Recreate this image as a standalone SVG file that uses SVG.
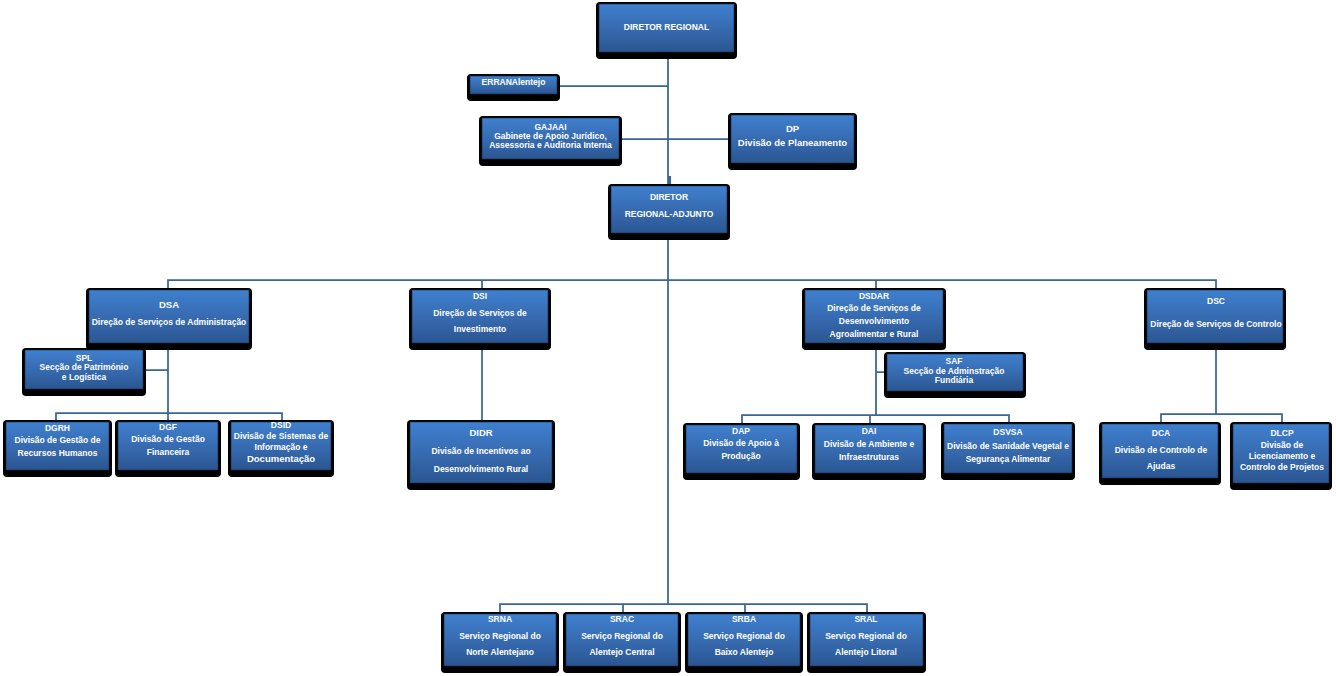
<svg xmlns="http://www.w3.org/2000/svg" width="1336" height="676" viewBox="0 0 1336 676">
<defs>
<linearGradient id="g" x1="0" y1="0" x2="0" y2="1">
<stop offset="0" stop-color="#3F80CF"/>
<stop offset="0.55" stop-color="#3669AE"/>
<stop offset="1" stop-color="#2A5692"/>
</linearGradient>
</defs>
<style>
.sh{fill:#000}
.bx{fill:url(#g);stroke:#1a2a40;stroke-width:0.6}
text{font-family:"Liberation Sans",Arial,sans-serif;font-weight:bold;font-size:8.5px;fill:#FFFFFF;text-anchor:middle}
.b{font-size:9.5px}
.m{font-size:9.5px}
#connectors path{fill:none;stroke:#3A6696;stroke-width:1.75}
</style>
<rect width="1336" height="676" fill="#FFFFFF"/>
<g id="connectors">
<path d="M668 52V186M668 233V604"/>
<path d="M669.5 176V187" style="stroke-width:3"/>
<path d="M557 86H668M619 139H731"/>
<path d="M168 290V280H1216V290M482 280V290M876 280V290"/>
<path d="M168 343V413M143 370H168M56 422V413H282V422M168 413V422"/>
<path d="M482 343V422"/>
<path d="M876 343V415M876 372H887M742 425V415H1009V424M870 415V425"/>
<path d="M1216 343V414M1161 424V414H1282V424"/>
<path d="M500 614V604H867V614M623 604V614M745 604V614"/>
</g>
<g id="dr"><rect class="sh" x="596" y="2" width="141" height="57" rx="4"/><rect class="bx" x="599" y="4" width="135" height="48"/><text x="666.5" y="30">DIRETOR REGIONAL</text></g>
<g id="erran"><rect class="sh" x="467" y="74" width="93" height="27" rx="4"/><rect class="bx" x="470" y="76" width="87" height="18"/><text x="513.5" y="85">ERRANAlentejo</text></g>
<g id="gajaai"><rect class="sh" x="479" y="116" width="143" height="50" rx="4"/><rect class="bx" x="482" y="118" width="137" height="41"/><text x="550.5" y="130">GAJAAI</text><text x="550.5" y="139">Gabinete de Apoio Jurídico,</text><text x="550.5" y="148">Assessoria e Auditoria Interna</text></g>
<g id="dp"><rect class="sh" x="728" y="113" width="129" height="57" rx="4"/><rect class="bx" x="731" y="115" width="123" height="48"/><text class="b" x="792.5" y="131.5">DP</text><text class="b" x="792.5" y="145.5">Divisão de Planeamento</text></g>
<g id="dra"><rect class="sh" x="608" y="184" width="122" height="56" rx="4"/><rect class="bx" x="611" y="186" width="116" height="47"/><text x="669" y="200">DIRETOR</text><text x="669" y="217">REGIONAL-ADJUNTO</text></g>
<g id="dsa"><rect class="sh" x="86" y="288" width="166" height="62" rx="4"/><rect class="bx" x="89" y="290" width="160" height="53"/><text class="m" x="169" y="308">DSA</text><text x="169" y="325">Direção de Serviços de Administração</text></g>
<g id="spl"><rect class="sh" x="22" y="348" width="124" height="48" rx="4"/><rect class="bx" x="25" y="350" width="118" height="39"/><text x="84" y="361">SPL</text><text x="84" y="370">Secção de Património</text><text x="84" y="380">e Logística</text></g>
<g id="dgrh"><rect class="sh" x="3" y="420" width="109" height="57" rx="4"/><rect class="bx" x="6" y="422" width="103" height="48"/><text x="57.5" y="431">DGRH</text><text x="57.5" y="443">Divisão de Gestão de</text><text x="57.5" y="456">Recursos Humanos</text></g>
<g id="dgf"><rect class="sh" x="115" y="420" width="106" height="57" rx="4"/><rect class="bx" x="118" y="422" width="100" height="48"/><text x="168" y="430">DGF</text><text x="168" y="442">Divisão de Gestão</text><text x="168" y="455">Financeira</text></g>
<g id="dsid"><rect class="sh" x="228" y="420" width="106" height="57" rx="4"/><rect class="bx" x="231" y="422" width="100" height="48"/><text x="281" y="428">DSID</text><text x="281" y="439">Divisão de Sistemas de</text><text x="281" y="450">Informação e</text><text class="m" x="281" y="461.5">Documentação</text></g>
<g id="dsi"><rect class="sh" x="409" y="288" width="142" height="62" rx="4"/><rect class="bx" x="412" y="290" width="136" height="53"/><text x="480" y="299">DSI</text><text x="480" y="316">Direção de Serviços de</text><text x="480" y="332">Investimento</text></g>
<g id="didr"><rect class="sh" x="407" y="420" width="148" height="70" rx="4"/><rect class="bx" x="410" y="422" width="142" height="61"/><text class="m" x="481" y="435.5">DIDR</text><text x="481" y="454">Divisão de Incentivos ao</text><text x="481" y="472">Desenvolvimento Rural</text></g>
<g id="dsdar"><rect class="sh" x="802" y="288" width="144" height="62" rx="4"/><rect class="bx" x="805" y="290" width="138" height="53"/><text x="874" y="299">DSDAR</text><text x="874" y="311">Direção de Serviços de</text><text x="874" y="324">Desenvolvimento</text><text x="874" y="337">Agroalimentar e Rural</text></g>
<g id="saf"><rect class="sh" x="884" y="352" width="142" height="46" rx="4"/><rect class="bx" x="887" y="354" width="136" height="37"/><text x="954" y="364">SAF</text><text x="954" y="374">Secção de Adminstração</text><text x="954" y="383">Fundiária</text></g>
<g id="dap"><rect class="sh" x="683" y="423" width="117" height="57" rx="4"/><rect class="bx" x="686" y="425" width="111" height="48"/><text x="741" y="434">DAP</text><text x="741" y="446">Divisão de Apoio à</text><text x="741" y="459">Produção</text></g>
<g id="dai"><rect class="sh" x="812" y="423" width="114" height="57" rx="4"/><rect class="bx" x="815" y="425" width="108" height="48"/><text x="869" y="434">DAI</text><text x="869" y="447">Divisão de Ambiente e</text><text x="869" y="460">Infraestruturas</text></g>
<g id="dsvsa"><rect class="sh" x="941" y="422" width="134" height="58" rx="4"/><rect class="bx" x="944" y="424" width="128" height="49"/><text x="1008" y="435">DSVSA</text><text x="1008" y="449">Divisão de Sanidade  Vegetal e</text><text x="1008" y="462">Segurança Alimentar</text></g>
<g id="dsc"><rect class="sh" x="1144" y="288" width="142" height="62" rx="4"/><rect class="bx" x="1147" y="290" width="136" height="53"/><text x="1216" y="304">DSC</text><text x="1216" y="327">Direção de Serviços de Controlo</text></g>
<g id="dca"><rect class="sh" x="1099" y="422" width="122" height="63" rx="4"/><rect class="bx" x="1102" y="424" width="116" height="54"/><text x="1161" y="436">DCA</text><text x="1161" y="453">Divisão de Controlo  de</text><text x="1161" y="469">Ajudas</text></g>
<g id="dlcp"><rect class="sh" x="1230" y="422" width="102" height="68" rx="4"/><rect class="bx" x="1233" y="424" width="96" height="59"/><text x="1282" y="436">DLCP</text><text x="1282" y="448">Divisão de</text><text x="1282" y="459">Licenciamento e</text><text x="1282" y="470">Controlo de Projetos</text></g>
<g id="srna"><rect class="sh" x="441" y="612" width="118" height="61" rx="4"/><rect class="bx" x="444" y="614" width="112" height="52"/><text x="500" y="622">SRNA</text><text x="500" y="639">Serviço Regional do</text><text x="500" y="655">Norte Alentejano</text></g>
<g id="srac"><rect class="sh" x="563" y="612" width="118" height="61" rx="4"/><rect class="bx" x="566" y="614" width="112" height="52"/><text x="622" y="622">SRAC</text><text x="622" y="639">Serviço Regional do</text><text x="622" y="655">Alentejo Central</text></g>
<g id="srba"><rect class="sh" x="685" y="612" width="118" height="61" rx="4"/><rect class="bx" x="688" y="614" width="112" height="52"/><text x="744" y="622">SRBA</text><text x="744" y="639">Serviço Regional do</text><text x="744" y="655">Baixo Alentejo</text></g>
<g id="sral"><rect class="sh" x="807" y="612" width="119" height="61" rx="4"/><rect class="bx" x="810" y="614" width="113" height="52"/><text x="866" y="622">SRAL</text><text x="866" y="639">Serviço Regional do</text><text x="866" y="655">Alentejo Litoral</text></g>
</svg>
